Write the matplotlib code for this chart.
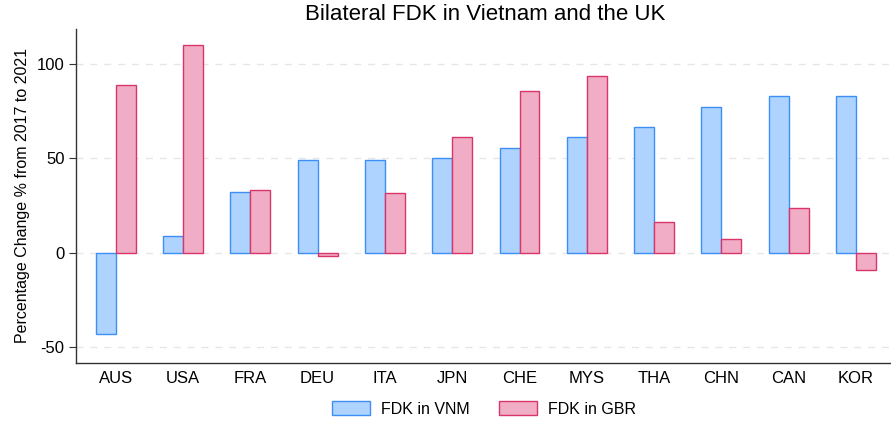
import matplotlib
matplotlib.use('Agg')
import matplotlib.pyplot as plt
import numpy as np

plt.rcParams['font.family'] = ['Liberation Sans', 'DejaVu Sans']
plt.rcParams['axes.unicode_minus'] = False

# data
countries = ['AUS', 'USA', 'FRA', 'DEU', 'ITA', 'JPN', 'CHE', 'MYS', 'THA', 'CHN', 'CAN', 'KOR']
fdk_vnm = [-43.3, 9.0, 32.4, 49.0, 49.2, 50.1, 55.4, 61.6, 66.9, 77.5, 83.3, 83.3]
fdk_gbr = [89.0, 110.1, 33.3, -1.8, 31.5, 61.6, 85.7, 94.0, 16.5, 7.4, 23.9, -9.2]

blue_face, blue_edge = '#aed3ff', '#3d8ff5'
pink_face, pink_edge = '#f0adc5', '#d93569'

fig = plt.figure(figsize=(8.91, 4.21), dpi=100)
ax = fig.add_axes([0.085, 0.138, 0.915, 0.793])

x = np.arange(len(countries))
w = 0.297

# Draw both series side by side
ax.bar(x - w / 2, fdk_vnm, w, facecolor=blue_face, edgecolor=blue_edge,
       linewidth=1.0, label='FDK in VNM', zorder=3)
ax.bar(x + w / 2, fdk_gbr, w, facecolor=pink_face, edgecolor=pink_edge,
       linewidth=1.0, label='FDK in GBR', zorder=3)

# Configure axes
ax.set_xlim(-0.594, 11.52)
ax.set_ylim(-58.5, 118.7)
ax.set_yticks([-50, 0, 50, 100])
ax.set_xticks(x)
ax.set_xticklabels(countries)
ax.tick_params(axis='x', length=0, pad=6, labelsize=12)
ax.tick_params(axis='y', length=5, width=0.8, color='#333333', pad=3, labelsize=12)
ax.yaxis.grid(True, linestyle=(0, (5, 5)), color='#e6e6e6', linewidth=1.0, zorder=0)

for side in ['top', 'right']:
    ax.spines[side].set_visible(False)
for side in ['left', 'bottom']:
    ax.spines[side].set_color('#333333')
    ax.spines[side].set_linewidth(1.0)

ax.set_ylabel('Percentage Change % from 2017 to 2021', fontsize=11.5, labelpad=5)
fig.text(0.544, 0.966, 'Bilateral FDK in Vietnam and the UK', ha='center', va='center',
         fontsize=16)

ax.legend(loc='center', bbox_to_anchor=(0.543, 0.029), bbox_transform=fig.transFigure,
          ncol=2, frameon=False, fontsize=11.5, handlelength=2.4, handleheight=1.0,
          handletextpad=0.7, columnspacing=1.8)

plt.savefig('out.png', dpi=100)
